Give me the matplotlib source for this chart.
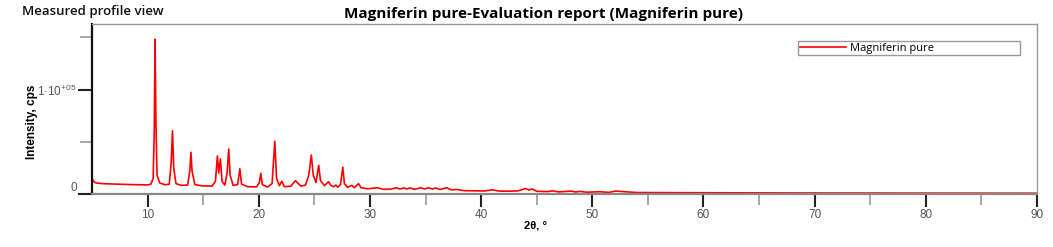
import matplotlib.pyplot as plt
from matplotlib.ticker import FixedLocator

# measured pattern (2theta in degrees, intensity in cps)
two_theta = [5.00, 5.05, 5.15, 5.3, 5.6, 6.2, 7.0, 7.8, 8.6, 9.4, 10.0, 10.3, 10.5, 10.6, 10.67,
             10.75, 10.85, 11.1, 11.6, 11.95, 12.12, 12.24, 12.35, 12.55, 13.0, 13.6, 13.8, 13.9,
             14.0, 14.25, 15.0, 15.8, 16.1, 16.28, 16.4, 16.55, 16.7, 16.95, 17.15, 17.3, 17.42,
             17.7, 18.1, 18.3, 18.45, 19.0, 19.8, 20.05, 20.18, 20.32, 20.8, 21.2, 21.44, 21.6,
             21.85, 22.07, 22.3, 22.9, 23.15, 23.3, 23.45, 23.8, 24.2, 24.5, 24.73, 24.9, 25.15,
             25.39, 25.55, 25.9, 26.27, 26.5, 26.75, 26.93, 27.1, 27.35, 27.56, 27.7, 28.0, 28.38,
             28.6, 28.98, 29.2, 29.8, 30.67, 31.2, 31.8, 32.4, 32.7, 33.05, 33.3, 33.6, 34.0, 34.6,
             34.9, 35.3, 35.6, 35.9, 36.3, 36.9, 37.3, 37.85, 38.5, 39.5, 40.3, 41.0, 41.6, 42.5,
             43.3, 44.0, 44.3, 44.6, 45.0, 46.0, 46.4, 47.0, 48.1, 48.5, 48.9, 49.5, 50.7, 51.5,
             52.1, 53.2, 54.0, 56.0, 60.0, 65.0, 70.0, 75.0, 80.0, 85.0, 90.0]
intensity = [15500, 14000, 12000, 10800, 10200, 9800, 9500, 9300, 9000, 8800, 8700, 9500, 15000,
             60000, 148200, 70000, 18000, 10500, 8800, 9500, 30000, 60600, 25000, 10000, 8300, 8500,
             22000, 39900, 22000, 9000, 7700, 7600, 12000, 36400, 20000, 33800, 12000, 8500, 20000,
             43100, 18000, 8200, 9000, 24200, 9500, 7000, 6800, 11000, 19800, 9000, 6700, 10000,
             50500, 15000, 8000, 12200, 7000, 7500, 11000, 12700, 11000, 7500, 8500, 18000, 37400,
             18000, 11000, 27500, 13000, 8000, 11800, 8000, 7000, 8600, 6500, 9000, 25600, 10000,
             6300, 8300, 6000, 9900, 6000, 5000, 6000, 4500, 4600, 6000, 4800, 5800, 4800, 5800,
             4500, 6000, 4800, 6000, 4700, 5800, 4300, 6000, 4000, 4300, 3200, 3000, 2900, 4000,
             2800, 2700, 3000, 5200, 3800, 4800, 2600, 2300, 3000, 2000, 2800, 1900, 2500, 1700,
             2200, 1500, 2800, 2000, 1400, 1300, 1200, 1050, 950, 900, 850, 800, 750]

series_name = 'Magniferin pure'
x_major = [10, 20, 30, 40, 50, 60, 70, 80, 90]
x_minor = [15, 25, 35, 45, 55, 65, 75, 85]
y_major = [0, 100000]
y_minor = [50000, 150000]
y_labels = ['0', '1\u00b710$^{\\mathregular{+05}}$']

W, H = 1053, 247
fig = plt.figure(figsize=(W / 100, H / 100), dpi=100)
ax = fig.add_axes([92 / W, 1 - 194 / H, (1037 - 92) / W, (194 - 24) / H])

ax.plot(two_theta, intensity, color='#ff0000', lw=1.2, label=series_name)
ax.set_xlim(5, 90)
ax.set_ylim(0, 162800)

ax.xaxis.set_major_locator(FixedLocator(x_major))
ax.xaxis.set_minor_locator(FixedLocator(x_minor))
ax.yaxis.set_major_locator(FixedLocator(y_major))
ax.yaxis.set_minor_locator(FixedLocator(y_minor))
ax.set_yticklabels(y_labels)

ax.tick_params(axis='x', which='major', length=9, width=1.5, color='#222222',
               labelsize=8.5, labelcolor='#555555', pad=2)
ax.tick_params(axis='x', which='minor', length=8, width=1.2, color='#999999')
ax.tick_params(axis='y', which='major', length=10, width=1.5, color='#222222',
               labelsize=8.5, labelcolor='#555555', pad=1)
ax.tick_params(axis='y', which='minor', length=9, width=1.2, color='#999999')
for lab in ax.get_xticklabels() + ax.get_yticklabels():
    lab.set_fontfamily('Liberation Sans')
ax.get_yticklabels()[0].set_verticalalignment('bottom')

ax.spines['left'].set_color('#111111')
ax.spines['left'].set_linewidth(1.6)
ax.spines['bottom'].set_color('#888888')
ax.spines['bottom'].set_linewidth(1.6)
for s in ['top', 'right']:
    ax.spines[s].set_color('#999999')
    ax.spines[s].set_linewidth(1.0)

leg = ax.legend(loc='upper left', bbox_to_anchor=(798 / W, 1 - 59 / H, 222 / W, 18 / H),
                bbox_transform=fig.transFigure, mode='expand', fancybox=False,
                framealpha=1, edgecolor='#999999', borderpad=0.15, handlelength=4.2,
                handletextpad=0.3, borderaxespad=0,
                prop={'family': 'Open Sans', 'size': 8})
leg.get_frame().set_linewidth(1.0)

fig.text(544 / W, 1 - 18 / H, 'Magniferin pure-Evaluation report (Magniferin pure)',
         ha='center', va='baseline', fontsize=11, fontweight='bold', family='Open Sans')
fig.text(22 / W, 1 - 15 / H, 'Measured profile view', ha='left', va='baseline',
         fontsize=9.5, fontweight='semibold', family='Open Sans', color='#111111')
fig.text(32 / W, 1 - 122 / H, 'Intensity, cps', rotation=90, ha='center', va='center',
         fontsize=8.5, fontweight='bold', family='Liberation Sans')
fig.text(535 / W, 1 - 225 / H, '2\u03b8, \u00b0', ha='center', va='center',
         fontsize=8, fontweight='bold', family='Liberation Sans')

fig.savefig('out.png', dpi=100)
